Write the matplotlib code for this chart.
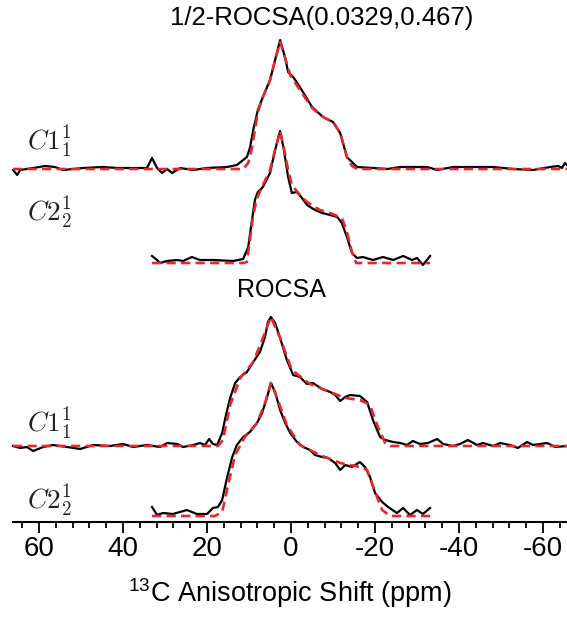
import numpy as np
import matplotlib.pyplot as plt

plt.rcParams['font.family'] = ['Liberation Sans', 'DejaVu Sans']
plt.rcParams['axes.unicode_minus'] = False

# 1/2-ROCSA, site C1_1^1 : experiment and fit (shift in ppm, intensity in arb. units)
half_c1_ppm = [66.2, 65.2, 64.5, 61.4, 58.6, 56.2, 54.3, 49.5, 44.8, 41.4, 37.6, 34.3, 33.1, 31.9,
               30.7, 29.5, 28.3, 26.4, 23.3, 20.0, 15.2, 12.9, 10.5, 9.8, 9.0, 7.9, 6.7, 5.0, 3.8,
               2.6, 1.4, 0.7, -0.5, -2.1, -5.0, -7.6, -10.0, -11.7, -13.3, -15.7, -19.5, -22.9,
               -26.0, -32.4, -34.8, -38.6, -48.1, -52.9, -57.6, -61.7, -63.6, -64.5, -65.2, -65.7]
half_c1_exp = [-1, -6, -1, 1, 3, 2, -1, 1, 2, 1, 1, 1, 11, 1, -4, 0, -4, 1, -1, 1, 2, 4, 12, 21,
               39, 59, 72, 89, 109, 129, 111, 97, 92, 82, 62, 52, 47, 36, 12, 2, 1, 0, 2, 2, -1,
               2, 2, 0, -1, 2, 3, 1, 6, 4]
half_c1_fit_ppm = [66.2, 11.4, 10.2, 9.3, 7.9, 6.7, 5.0, 3.8, 2.6, 1.4, 0.2, -2.1, -5.0, -7.6,
                   -10.0, -11.7, -13.3, -14.5, -15.7, -65.7]
half_c1_fit = [0, 0, 6, 21, 57, 72, 89, 109, 127, 111, 94, 79, 61, 52, 47, 36, 12, 3, 0, 0]

# 1/2-ROCSA, site C2_2^1
half_c2_ppm = [33.1, 31.9, 31.2, 29.5, 27.1, 25.7, 23.6, 21.7, 18.6, 13.8, 11.4, 10.2, 9.3, 8.6,
               7.9, 6.7, 5.0, 3.8, 2.6, 1.7, 0.7, -0.2, -1.4, -2.6, -3.8, -5.7, -7.4, -9.3, -11.0,
               -12.1, -13.3, -14.5, -15.7, -17.1, -19.5, -21.9, -24.3, -26.7, -28.8, -30.0, -31.4,
               -33.1]
half_c2_exp = [6, 2, -1, 1, 2, 1, 5, 2, 2, 1, 3, 15, 42, 62, 70, 75, 89, 112, 131, 112, 85, 69,
               70, 64, 57, 52, 49, 47, 45, 39, 25, 9, 4, 5, 2, 5, 2, 6, 2, 4, -3, 6]
half_c2_fit_ppm = [33.1, 11.4, 10.5, 9.8, 9.0, 8.1, 6.7, 5.0, 3.8, 2.6, 1.7, 0.7, -0.2, -2.1,
                   -3.8, -6.9, -9.3, -12.1, -13.3, -14.5, -15.5, -33.1]
half_c2_fit = [-1, -1, 0, 22, 47, 64, 77, 92, 112, 131, 114, 92, 77, 67, 60, 52, 49, 44, 30, 10,
               -1, -1]

# ROCSA, site C1_1^1
rocsa_c1_ppm = [66.2, 64.5, 62.9, 61.4, 59.0, 56.7, 53.3, 50.2, 47.1, 43.1, 40.0, 37.6, 34.3,
                31.2, 29.5, 27.1, 25.7, 23.3, 21.7, 20.5, 19.5, 18.6, 17.6, 16.4, 15.5, 14.5,
                13.3, 12.1, 10.5, 9.0, 7.4, 6.2, 5.5, 4.8, 3.8, 2.6, 1.0, -0.5, -2.1, -3.8, -5.2,
                -7.4, -9.3, -10.5, -11.7, -12.9, -14.0, -16.4, -18.1, -19.5, -21.2, -22.4, -24.3,
                -26.0, -27.6, -29.0, -30.7, -32.6, -34.8, -36.2, -38.6, -40.2, -42.1, -44.3,
                -45.7, -48.1, -49.8, -52.1, -54.0, -56.2, -57.6, -61.0, -62.9, -65.7]
rocsa_c1_exp = [0, -2, -1, -5, -1, 1, -1, -3, 1, 0, 2, -1, 1, -1, 3, 2, -1, 1, 3, 1, 7, 2, 1, 13,
                31, 48, 63, 69, 74, 84, 94, 109, 124, 129, 123, 108, 86, 71, 69, 62, 63, 57, 54,
                51, 45, 49, 51, 50, 44, 26, 9, 6, 4, 3, 1, 5, 2, 3, 7, 2, 0, 2, 6, 1, 3, 0, 3, 1,
                -2, 4, 1, 3, -1, 0]
rocsa_c1_fit_ppm = [66.2, 17.4, 16.2, 14.5, 12.1, 9.0, 6.7, 4.8, 2.6, -0.2, -4.5, -9.3, -12.9,
                    -16.4, -18.8, -20.5, -22.4, -23.6, -65.7]
rocsa_c1_fit = [0, 0, 6, 41, 68, 84, 108, 129, 108, 76, 62, 54, 48, 46, 41, 21, 3, 0, 0]

# ROCSA, site C2_2^1
rocsa_c2_ppm = [33.1, 31.9, 30.5, 28.1, 24.8, 22.4, 20.0, 18.6, 17.4, 16.4, 15.2, 14.0, 12.9,
                11.4, 9.8, 8.1, 6.9, 5.7, 4.8, 3.8, 2.6, 1.4, 0.2, -1.4, -2.9, -4.5, -5.7, -7.4,
                -8.8, -10.5, -11.7, -12.9, -14.5, -16.4, -17.6, -18.8, -20.0, -21.7, -23.1,
                -25.2, -26.7, -28.3, -30.0, -31.4, -33.1]
rocsa_c2_exp = [7, -1, 1, 0, 4, 0, 0, 6, 7, 14, 37, 57, 69, 77, 82, 91, 101, 117, 131, 122, 104,
                91, 81, 72, 67, 64, 59, 57, 56, 51, 44, 49, 47, 52, 47, 37, 21, 12, 7, 1, 6, -1,
                4, 0, 6]
rocsa_c2_fit_ppm = [33.1, 18.1, 16.4, 15.0, 13.3, 11.0, 8.1, 6.2, 4.8, 3.3, 1.0, -2.1, -6.9,
                    -11.7, -16.4, -18.1, -20.0, -21.7, -23.6, -33.1]
rocsa_c2_fit = [-2, -2, 2, 29, 59, 77, 91, 111, 131, 116, 89, 69, 59, 51, 47, 44, 22, 4, -2, -2]

red = '#e8262c'

fig = plt.figure(figsize=(5.67, 6.27), dpi=100)
ax = fig.add_axes([13 / 567, 105 / 627, 1 - 13 / 567, 522 / 627])

spectra = [
    (half_c1_ppm, half_c1_exp, half_c1_fit_ppm, half_c1_fit, 353),
    (half_c2_ppm, half_c2_exp, half_c2_fit_ppm, half_c2_fit, 260),
    (rocsa_c1_ppm, rocsa_c1_exp, rocsa_c1_fit_ppm, rocsa_c1_fit, 76),
    (rocsa_c2_ppm, rocsa_c2_exp, rocsa_c2_fit_ppm, rocsa_c2_fit, 8),
]
for xe, ye, xf, yf, off in spectra:
    ax.plot(xe, np.array(ye) + off, color='black', lw=1.6, clip_on=False,
            solid_joinstyle='round')
    ax.plot(xf, np.array(yf) + off, color=red, lw=1.9, ls=(0, (3.5, 2)), clip_on=False)

# site labels
for y, lab in [(372, r'$C1_1^1$'), (301, r'$C2_2^1$'), (90, r'$C1_1^1$'), (13, r'$C2_2^1$')]:
    ax.text(62.9, y, lab, fontsize=19.5, math_fontfamily='cm', color='#222222',
            ha='left', va='baseline')

ax.text(-7.4, 504, '1/2-ROCSA(0.0329,0.467)', fontsize=18.5, ha='center', va='center')
ax.text(2.4, 232, 'ROCSA', fontsize=18, ha='center', va='center')

ax.set_xlim(66.2, -65.7)
ax.set_ylim(0, 522)
ax.set_xticks(np.arange(60, -61, -20))
ax.set_xticks(np.arange(64, -65, -4), minor=True)
ax.tick_params(axis='x', which='major', length=8, width=1.3, labelsize=20, pad=2)
ax.tick_params(axis='x', which='minor', length=4.5, width=1.3)
ax.set_yticks([])
for s in ['left', 'right', 'top']:
    ax.spines[s].set_visible(False)
ax.spines['bottom'].set_linewidth(1.5)
ax.set_xlabel(r'$^{\mathregular{13}}$C Anisotropic Shift (ppm)', fontsize=19.5, labelpad=10)

fig.savefig('out.png', dpi=100)
